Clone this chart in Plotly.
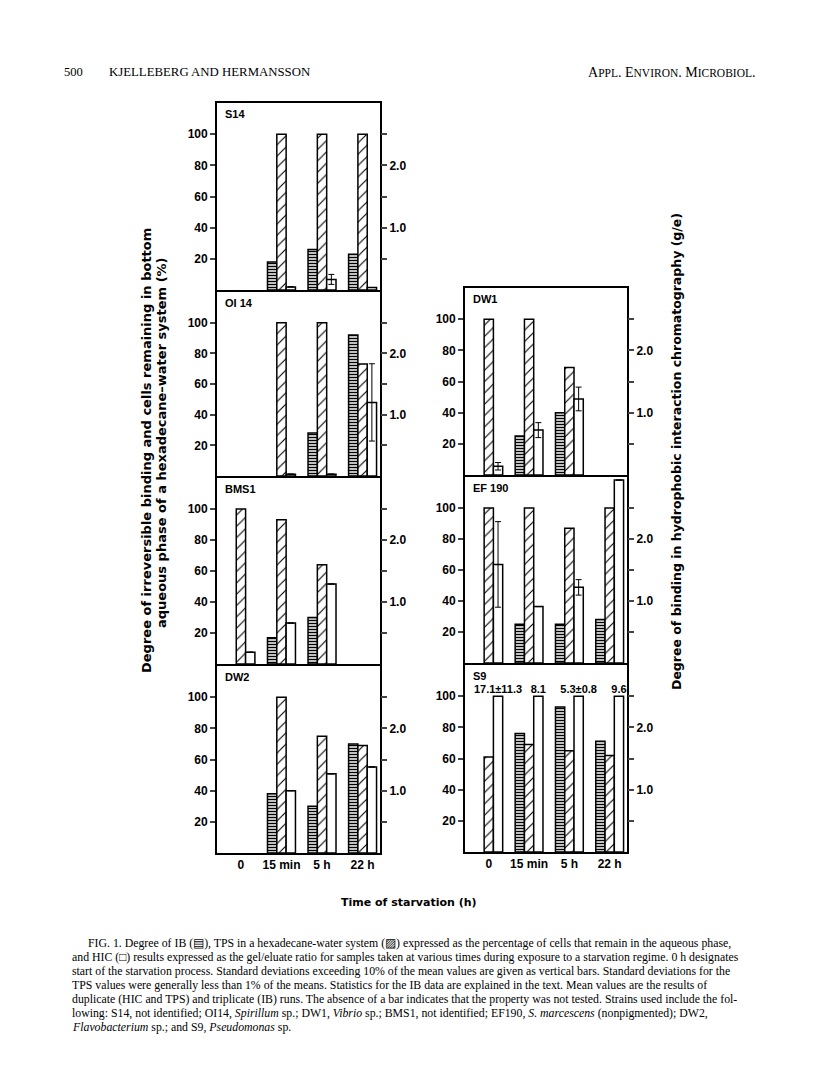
import plotly.graph_objects as go

# ---------------- data ----------------
times = ["0", "15 min", "5 h", "22 h"]

# IB = irreversible binding (%), TPS = two-phase system (% remaining), HIC = gel/eluate ratio (g/e)
s14_ib = [None, 18, 26, 23]
s14_tps = [None, 100, 100, 100]
s14_hic = [None, 0.05, 0.17, 0.04]
s14_hic_sd = [None, None, 0.08, None]

oi14_ib = [None, None, 28, 92]
oi14_tps = [None, 100, 100, 73]
oi14_hic = [None, 0.03, 0.03, 1.2]
oi14_hic_sd = [None, None, None, 0.63]

bms1_ib = [None, 17, 30, None]
bms1_tps = [100, 93, 64, None]
bms1_hic = [0.19, 0.66, 1.29, None]
bms1_hic_sd = [None, None, None, None]

dw2_ib = [None, 38, 30, 70]
dw2_tps = [None, 100, 75, 69]
dw2_hic = [None, 1.0, 1.27, 1.38]
dw2_hic_sd = [None, None, None, None]

dw1_ib = [None, 25, 40, None]
dw1_tps = [100, 100, 69, None]
dw1_hic = [0.14, 0.72, 1.22, None]
dw1_hic_sd = [0.06, 0.12, 0.19, None]

ef190_ib = [None, 25, 25, 28]
ef190_tps = [100, 100, 87, 100]
ef190_hic = [1.59, 0.91, 1.22, 2.95]
ef190_hic_sd = [0.69, None, 0.125, None]

s9_ib = [None, 76, 93, 71]
s9_tps = [61, 69, 65, 62]
s9_hic = [17.1, 8.1, 5.3, 9.6]
s9_hic_sd = [11.3, None, 0.8, None]

left_ticks = [20, 40, 60, 80, 100]
right_ticks = [0.5, 1.0, 1.5, 2.0, 2.5]
right_ticktext = ["", "1.0", "", "2.0", ""]

caption_lines = [
    "FIG. 1. Degree of IB (▤), TPS in a hexadecane-water system (▨) expressed as the percentage of cells that remain in the aqueous phase,",
    "and HIC (□) results expressed as the gel/eluate ratio for samples taken at various times during exposure to a starvation regime. 0 h designates",
    "start of the starvation process. Standard deviations exceeding 10% of the mean values are given as vertical bars. Standard deviations for the",
    "TPS values were generally less than 1% of the means. Statistics for the IB data are explained in the text. Mean values are the results of",
    "duplicate (HIC and TPS) and triplicate (IB) runs. The absence of a bar indicates that the property was not tested. Strains used include the fol-",
    "lowing: S14, not identified; OI14, <i>Spirillum</i> sp.; DW1, <i>Vibrio</i> sp.; BMS1, not identified; EF190, <i>S. marcescens</i> (nonpigmented); DW2,",
    "<i>Flavobacterium</i> sp.; and S9, <i>Pseudomonas</i> sp.",
]

# ---------------- style / layout ----------------
PAGE_W, PAGE_H = 816, 1082
OX, OY = 8, 8                     # browser body margin
W, H = PAGE_W - 2 * OX, PAGE_H - 2 * OY
HIC_CAP = 2.5                     # S9 HIC bars are drawn broken at this height
BAR_W = 0.23
OFF_IB, OFF_TPS, OFF_HIC = -0.345, -0.115, 0.115
LW = 1.8
SANS = "Liberation Sans, Arial, sans-serif"
WIDE = "DejaVu Sans, sans-serif"
SERIF = "Liberation Serif, Times New Roman, serif"

panels = [
    # name, ib, tps, hic, sd, (left, right, top, bottom) page px, bottom-row, broken
    ("S14", s14_ib, s14_tps, s14_hic, s14_hic_sd, (217, 380, 103, 290), False, False),
    ("OI 14", oi14_ib, oi14_tps, oi14_hic, oi14_hic_sd, (217, 380, 292, 476), False, False),
    ("BMS1", bms1_ib, bms1_tps, bms1_hic, bms1_hic_sd, (217, 380, 478, 664), False, False),
    ("DW2", dw2_ib, dw2_tps, dw2_hic, dw2_hic_sd, (217, 380, 666, 853), True, False),
    ("DW1", dw1_ib, dw1_tps, dw1_hic, dw1_hic_sd, (465, 627, 288, 475), False, False),
    ("EF 190", ef190_ib, ef190_tps, ef190_hic, ef190_hic_sd, (465, 627, 477, 663), False, False),
    ("S9", s9_ib, s9_tps, s9_hic, s9_hic_sd, (465, 627, 665, 852), True, True),
]


def fx(p):
    return (p - OX) / W


def fy(p):
    return 1 - (p - OY) / H


xs = list(range(len(times)))
line = dict(color="black", width=1.5)

fig = go.Figure()
layout = dict(
    width=W, height=H, margin=dict(l=0, r=0, t=0, b=0),
    paper_bgcolor="white", plot_bgcolor="white", showlegend=False,
    font=dict(family=SANS, color="black"),
)
annotations = []

for k, (name, ib, tps, hic, sd, (l, r, t, b), bottom, broken) in enumerate(panels):
    xn = "" if k == 0 else str(k + 1)
    ya_n = "" if k == 0 else str(2 * k + 1)
    yb_n = str(2 * k + 2)
    xref, yref_a, yref_b = "x" + xn, "y" + ya_n, "y" + yb_n

    fig.add_bar(x=xs, y=ib, offset=OFF_IB, width=BAR_W, xaxis=xref, yaxis=yref_a,
                marker=dict(color="white", line=line,
                            pattern=dict(shape="-", fgcolor="black", bgcolor="white",
                                         size=3, solidity=0.5, fillmode="replace")),
                name="IB")
    fig.add_bar(x=xs, y=tps, offset=OFF_TPS, width=BAR_W, xaxis=xref, yaxis=yref_a,
                marker=dict(color="white", line=line,
                            pattern=dict(shape="/", fgcolor="black", bgcolor="white",
                                         size=8, solidity=0.14, fillmode="replace")),
                name="TPS")
    if broken:
        hic_plot = [None if v is None else min(v, HIC_CAP) for v in hic]
        fig.add_bar(x=xs, y=hic_plot, offset=OFF_HIC, width=BAR_W, xaxis=xref, yaxis=yref_b,
                    marker=dict(color="white", line=line), name="HIC")
        labels = [f"{v}±{s}" if s is not None else f"{v}" for v, s in zip(hic, sd)]
        fig.add_scatter(x=[i + OFF_HIC + BAR_W / 2 for i in xs], y=hic_plot, mode="text",
                        text=labels, textposition="top center",
                        textfont=dict(family=SANS, size=11, color="black", weight="bold"),
                        xaxis=xref, yaxis=yref_b, cliponaxis=False)
    else:
        fig.add_bar(x=xs, y=hic, offset=OFF_HIC, width=BAR_W, xaxis=xref, yaxis=yref_b,
                    marker=dict(color="white", line=line), name="HIC",
                    error_y=dict(type="data", array=sd, visible=True, color="black",
                                 thickness=1, width=3))

    layout["xaxis" + xn] = dict(
        domain=[fx(l), fx(r)], anchor=yref_a, range=[-0.59, 3.43],
        showline=True, mirror=True, linecolor="black", linewidth=LW,
        showgrid=False, zeroline=False, ticks="",
        tickvals=xs, ticktext=times, showticklabels=bottom,
        tickfont=dict(family=SANS, size=12, color="black", weight="bold"),
        fixedrange=True,
    )
    layout["yaxis" + ya_n] = dict(
        domain=[fy(b), fy(t)], anchor=xref, range=[0, 120],
        showline=True, mirror=True, linecolor="black", linewidth=LW,
        showgrid=False, zeroline=False, ticks="outside", ticklen=5, tickwidth=1.5,
        tickvals=left_ticks, tickfont=dict(family=SANS, size=12, color="black", weight="bold"),
        fixedrange=True,
    )
    layout["yaxis" + yb_n] = dict(
        domain=[fy(b), fy(t)], anchor=xref, overlaying=yref_a, side="right", range=[0, 3.0],
        showline=False, showgrid=False, zeroline=False, ticks="outside", ticklen=6, tickwidth=1.5,
        tickvals=right_ticks, ticktext=right_ticktext,
        tickfont=dict(family=SANS, size=12, color="black", weight="bold"),
        fixedrange=True,
    )
    annotations.append(dict(text=name, xref="paper", yref="paper", x=fx(l + 6), y=fy(t + 11),
                            xanchor="left", yanchor="middle", showarrow=False,
                            font=dict(family=SANS, size=11, color="black", weight="bold")))

# axis titles
annotations += [
    dict(text="Degree of irreversible binding and cells remaining in bottom", xref="paper", yref="paper",
         x=fx(146), y=fy(451), textangle=-90, showarrow=False, xanchor="center", yanchor="middle",
         font=dict(family=WIDE, size=13, color="black", weight="bold")),
    dict(text="aqueous phase of a hexadecane–water system (%)", xref="paper", yref="paper",
         x=fx(161), y=fy(443), textangle=-90, showarrow=False, xanchor="center", yanchor="middle",
         font=dict(family=WIDE, size=13, color="black", weight="bold")),
    dict(text="Degree of binding in hydrophobic interaction chromatography (g/e)", xref="paper", yref="paper",
         x=fx(676), y=fy(452), textangle=-90, showarrow=False, xanchor="center", yanchor="middle",
         font=dict(family=WIDE, size=12.5, color="black", weight="bold")),
    dict(text="Time of starvation (h)", xref="paper", yref="paper",
         x=fx(409), y=fy(902), showarrow=False, xanchor="center", yanchor="middle",
         font=dict(family=WIDE, size=11, color="black", weight="bold")),
]

# running header
annotations += [
    dict(text="500", xref="paper", yref="paper", x=fx(62), y=fy(72), xanchor="left", yanchor="middle",
         showarrow=False, font=dict(family=SERIF, size=12.5, color="black")),
    dict(text="KJELLEBERG AND HERMANSSON", xref="paper", yref="paper", x=fx(107), y=fy(72),
         xanchor="left", yanchor="middle", showarrow=False, font=dict(family=SERIF, size=12.8, color="black")),
    dict(text="A<span style='font-size:11.5px'>PPL</span>. E<span style='font-size:11.5px'>NVIRON</span>. "
              "M<span style='font-size:11.5px'>ICROBIOL</span>.",
         xref="paper", yref="paper", x=fx(758), y=fy(72), xanchor="right", yanchor="middle",
         showarrow=False, font=dict(family=SERIF, size=14, color="black")),
]

# caption
for i, txt in enumerate(caption_lines):
    annotations.append(dict(text=txt, xref="paper", yref="paper", x=fx(86 if i == 0 else 70),
                            y=fy(943 + 14 * i), xanchor="left", yanchor="middle", showarrow=False,
                            font=dict(family=SERIF, size=11.8, color="black")))

layout["annotations"] = annotations
fig.update_layout(**layout)
fig.write_html("out.html")
